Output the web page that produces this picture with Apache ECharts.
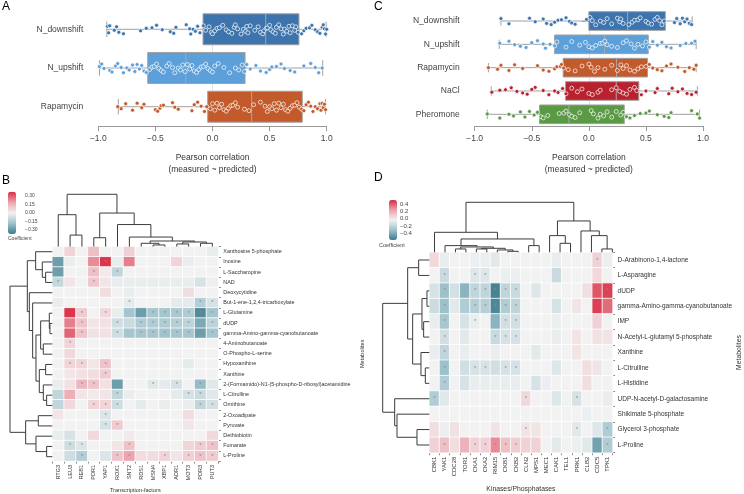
<!DOCTYPE html>
<html><head><meta charset="utf-8">
<script src="https://cdn.jsdelivr.net/npm/echarts@6/dist/echarts.min.js"></script>
<style>html,body{margin:0;padding:0;background:#fff}#c{width:744px;height:494px}</style>
</head><body><div id="c"></div>
<script>
// ---------- Panel A / C : box plots ----------
const A_CATS = ['N_downshift', 'N_upshift', 'Rapamycin'];
const A_STATS = [[-0.926, -0.083, 0.466, 0.757, 0.995], [-0.99, -0.567, -0.235, 0.285, 0.965], [-0.825, -0.042, 0.343, 0.786, 0.99]];
const A_PTS_NDOWN = [-0.92,-0.91,-0.9,-0.86,-0.84,-0.82,-0.78,-0.63,-0.58,-0.53,-0.49,-0.44,-0.37,-0.34,-0.32,-0.23,-0.2,-0.19,-0.17,-0.15,-0.13,-0.11,-0.08,-0.06,-0.03,-0.01,0.0,0.02,0.04,0.06,0.09,0.12,0.14,0.17,0.19,0.2,0.22,0.25,0.27,0.29,0.3,0.31,0.33,0.37,0.4,0.42,0.44,0.45,0.47,0.48,0.5,0.51,0.53,0.55,0.56,0.58,0.6,0.62,0.63,0.65,0.67,0.68,0.7,0.72,0.73,0.75,0.78,0.8,0.82,0.85,0.87,0.9,0.92,0.94,0.96,0.97,0.98,0.99,1.0];
const A_PTS_NUP = [-0.99,-0.97,-0.95,-0.9,-0.88,-0.85,-0.83,-0.8,-0.78,-0.75,-0.73,-0.7,-0.68,-0.66,-0.64,-0.62,-0.6,-0.58,-0.55,-0.53,-0.51,-0.49,-0.47,-0.45,-0.43,-0.4,-0.38,-0.35,-0.33,-0.3,-0.28,-0.26,-0.24,-0.22,-0.2,-0.18,-0.16,-0.14,-0.12,-0.1,-0.08,-0.06,-0.04,-0.02,0.0,0.02,0.05,0.1,0.15,0.2,0.23,0.26,0.28,0.3,0.33,0.38,0.42,0.47,0.5,0.52,0.56,0.6,0.63,0.68,0.72,0.8,0.86,0.9,0.93,0.96];
const A_PTS_RAPA = [-0.83,-0.8,-0.76,-0.7,-0.66,-0.62,-0.6,-0.5,-0.48,-0.46,-0.45,-0.43,-0.35,-0.33,-0.3,-0.18,-0.16,-0.13,-0.1,-0.07,-0.05,-0.02,0.0,0.02,0.04,0.06,0.08,0.1,0.12,0.14,0.16,0.18,0.2,0.22,0.28,0.32,0.36,0.42,0.46,0.48,0.5,0.52,0.54,0.56,0.58,0.6,0.62,0.64,0.66,0.68,0.7,0.72,0.74,0.76,0.78,0.8,0.82,0.84,0.86,0.88,0.9,0.92,0.94,0.95,0.96,0.97,0.98,0.99];

const C_CATS = ['N_downshift', 'N_upshift', 'Rapamycin', 'NaCl', 'Pheromone'];
const C_STATS = [[-0.77, 0.0, 0.34, 0.67, 0.905], [-0.785, -0.30, 0.137, 0.52, 0.94], [-0.88, -0.225, 0.242, 0.514, 0.94], [-0.855, -0.204, 0.24, 0.438, 0.95], [-0.89, -0.432, -0.175, 0.31, 0.97]];
const C_PTS_NDOWN = [-0.77,-0.7,-0.52,-0.47,-0.4,-0.37,-0.33,-0.3,-0.27,-0.24,-0.2,-0.17,-0.15,-0.12,-0.02,0.01,0.03,0.06,0.1,0.13,0.16,0.2,0.25,0.27,0.28,0.3,0.35,0.38,0.4,0.43,0.45,0.5,0.52,0.55,0.58,0.6,0.62,0.64,0.66,0.75,0.77,0.8,0.82,0.84,0.86,0.88,0.9];
const C_PTS_NUP = [-0.78,-0.7,-0.65,-0.6,-0.55,-0.5,-0.45,-0.4,-0.38,-0.34,-0.3,-0.28,-0.2,-0.15,-0.08,-0.03,0.0,0.03,0.06,0.1,0.12,0.14,0.16,0.2,0.25,0.3,0.33,0.37,0.4,0.43,0.47,0.5,0.53,0.56,0.6,0.64,0.68,0.72,0.8,0.85,0.9,0.93];
const C_PTS_RAPA = [-0.88,-0.8,-0.77,-0.7,-0.65,-0.58,-0.45,-0.4,-0.35,-0.3,-0.28,-0.25,-0.24,-0.22,-0.18,-0.12,-0.06,0.0,0.02,0.05,0.08,0.14,0.2,0.25,0.28,0.3,0.33,0.36,0.4,0.43,0.46,0.5,0.53,0.56,0.6,0.64,0.68,0.72,0.78,0.84,0.88,0.92,0.94];
const C_PTS_NACL = [-0.85,-0.78,-0.73,-0.68,-0.63,-0.58,-0.54,-0.5,-0.47,-0.4,-0.35,-0.3,-0.27,-0.23,-0.2,-0.15,-0.1,-0.06,0.0,0.03,0.08,0.1,0.2,0.24,0.27,0.3,0.33,0.36,0.4,0.42,0.46,0.5,0.58,0.6,0.7,0.73,0.78,0.82,0.86,0.9,0.94];
const C_PTS_PHER = [-0.89,-0.78,-0.7,-0.66,-0.6,-0.56,-0.52,-0.48,-0.45,-0.42,-0.4,-0.36,-0.26,-0.22,-0.2,-0.17,-0.15,-0.12,-0.08,0.02,0.04,0.08,0.1,0.13,0.16,0.2,0.24,0.28,0.3,0.33,0.36,0.4,0.45,0.5,0.53,0.6,0.66,0.7,0.72,0.9,0.95,0.97];

// ---------- Panel B heatmap ----------
const B_COLS = ['RTG3','LEU3','REB1','PDR1','YAP1','ROX1','SNT2','RDS1','MSN4','XBP1','ADR1','MOT3','PDR3','PUT3'];
const B_ROWS = ['Xanthosine 5-phosphate','Inosine','L-Saccharopine','NAD','Deoxycytidine','But-1-ene-1,2,4-tricarboxylate','L-Glutamine','dUDP','gamma-Amino-gamma-cyanobutanoate','4-Aminobutanoate','O-Phospho-L-serine','Hypoxanthine','Xanthine','2-(Formamido)-N1-(5-phospho-D-ribosyl)acetamidine','L-Citrulline','Ornithine','2-Oxoadipate','Pyruvate','Dethiobiotin','Fumarate','L-Proline'];
const B_VALUES = [
  [0,0.07,0,0.12,0,0,0.08,0,0,0,0,0,0,-0.02],
  [-0.28,-0.02,0,0.22,0.35,-0.02,0.24,0,0,0,0.07,-0.02,0,0],
  [-0.28,0,0,0.12,0.02,-0.11,0,0,0,0,0,0,0,0],
  [-0.1,0.03,0,0.1,0.03,-0.02,-0.02,-0.02,-0.02,-0.02,-0.02,-0.02,-0.06,-0.01],
  [0,0,0,0,0.05,0,-0.02,0,0,0,0,0.05,0,0],
  [-0.02,0,0,0,0,0,-0.03,0,0,0,-0.03,-0.03,-0.14,-0.06],
  [0,0.35,0.09,0,0.06,-0.02,-0.17,-0.28,-0.17,-0.17,-0.16,-0.15,-0.33,-0.17],
  [0,0.24,0.11,0.03,0.04,-0.08,-0.09,-0.15,-0.15,-0.15,-0.14,-0.12,-0.25,-0.12],
  [0,0.28,0.11,0.04,0.04,-0.08,-0.17,-0.17,-0.17,-0.18,-0.17,-0.17,-0.28,-0.17],
  [0,0.07,0,0,0,0,0,0,0,0,0,0,0,0],
  [0,0.06,0,0,0,0,0,0,0,0,0,0,0,0],
  [0,0.07,0.07,0.03,0.11,0,0,0,0,0,0,-0.03,0,0],
  [0,0.03,0.04,0.05,0.09,0,0,0,0,0,0,0,0,0],
  [-0.02,0.04,0.14,0.11,0.04,-0.28,0,0,-0.04,-0.03,-0.06,0,-0.2,-0.04],
  [-0.11,0.16,0.03,0.02,0.03,-0.11,-0.02,0,0,0,-0.03,-0.07,-0.09,-0.04],
  [-0.11,0.06,0,0.07,0.07,-0.08,0,-0.03,0,-0.02,0,-0.02,-0.11,-0.07],
  [0.03,0,0,0,-0.05,0,0,0,0,0,0,0.05,0,0],
  [0,0,0,0,-0.06,0.09,0,0,0,0,0,0.03,0,0],
  [-0.02,-0.06,0,0.06,0,0,0.02,0,0,0,0,0,0,0.06],
  [0,-0.08,-0.05,0,0,0.03,0.11,0,0,0,0,0.07,0.09,0.11],
  [0,-0.08,-0.14,0,-0.05,0.11,0.18,0.05,0.05,0.07,0.03,0.08,0.11,0.09]
];
const B_SIG = [[],[0,4],[0,3,5],[0,3],[],[6,12,13],[2,4,7,8,9,10,11,12,13],[2,5,7,8,9,10,11,13],[2,5,7,8,9,10,11,12,13],[1],[],[1,2,4],[4],[2,3,8,10,12],[5,11,12],[3,4,5,12,13],[4],[4,5],[],[1,2,6,12,13],[2,5,6,9,11,12,13]];
const B_COL_MERGES = [[1,2,35],[0,14,97],[3,4,27],[8,9,5],[7,17,10],[10,11,8],[12,13,10],[19,20,14],[18,21,17],[6,22,29],[5,23,67],[16,24,102],[15,25,159]];
const B_ROW_MERGES = [[2,3,20],[1,21,30],[0,22,50],[7,8,7],[6,24,9],[9,10,27],[25,26,35],[11,12,20],[14,15,17],[13,29,27],[28,30,39],[27,31,49],[5,32,59],[4,33,69],[23,34,75],[16,17,42],[19,20,17],[18,37,49],[36,38,80],[35,39,127]];
const B_SCALE_TICKS = [-0.3, 0.3, 0.15];

// ---------- Panel D heatmap ----------
const D_COLS = ['CBK1','YAK1','CDC28','TOR1','CKA1','CKA2','RIM15','CKB1','CKB2','CLN2','MPS1','MEC1','CAK1','TEL1','PRK1','CLB2','CDC5','TPK1'];
const D_ROWS = ['D-Arabinono-1,4-lactone','L-Asparagine','dUDP','gamma-Amino-gamma-cyanobutanoate','IMP','N-Acetyl-L-glutamyl 5-phosphate','Xanthine','L-Citrulline','L-Histidine','UDP-N-acetyl-D-galactosamine','Shikimate 5-phosphate','Glycerol 3-phosphate','L-Proline'];
const D_VALUES = [
  [0.09,-0.03,0,0,-0.02,-0.02,-0.05,0,0,0,0,0,-0.03,0,0,0,0.11,-0.02],
  [0,-0.14,0,0,-0.07,-0.07,0,-0.02,-0.02,0,0,0,-0.14,0,0,0,0.09,0],
  [-0.09,-0.28,-0.1,-0.33,-0.17,-0.17,-0.52,-0.17,-0.14,0,-0.07,0,0,0,0,0.07,0.45,0.5],
  [-0.13,-0.28,-0.05,-0.22,-0.2,-0.2,-0.5,-0.22,-0.17,0,0,0,-0.09,0,0.05,0,0.5,0.4],
  [-0.03,-0.25,0,-0.09,-0.03,0,-0.33,-0.11,-0.11,0,0,0,-0.02,0,0,0,0.11,0],
  [0,-0.11,0,-0.05,0,0,-0.14,-0.09,-0.09,0,0,0,-0.03,0,0.05,0,0.06,0.05],
  [-0.03,-0.17,0,-0.03,0,0,-0.03,0,0,0,-0.05,0,0,0,0.05,0,0,0],
  [0,-0.28,0,-0.11,-0.09,-0.09,-0.11,-0.09,-0.09,0,0,0,-0.07,0,0,0.07,0.05,0],
  [0,-0.22,0,-0.09,-0.03,-0.03,-0.03,-0.03,-0.03,0,-0.09,-0.02,0,0,0,0.07,0,0],
  [-0.22,-0.06,0,0,0,0,0,0,0,0.09,0,0,-0.07,0,-0.09,0,0,-0.03],
  [0,0,0,0,0,0,0,0,0,0,0,0,0,0,0,-0.02,0,0],
  [0.07,-0.02,0.06,0,0,0,0.05,0,0,0.05,0.05,0,0,0,-0.05,0,-0.07,-0.22],
  [0.11,0.17,0.07,0.22,0.11,0.11,0.33,0.17,0.13,0.11,0.11,0,-0.05,0,-0.02,-0.06,-0.4,-0.22]
];
const D_SIG = [[16],[1,4,5],[1,4,5,6,7,8,17],[1,4,5,6,7,8,17],[1,4,7,8],[1,6,7,8],[1],[1,4,5,7,8],[1],[0,9,14],[],[9,14,17],[1,4,5,6,7,8,17]];
const D_COL_MERGES = [[2,3,10],[4,5,10],[7,8,3],[6,20,7],[19,21,12],[18,22,16],[1,23,20],[9,10,20],[24,25,40],[0,26,60],[12,13,27],[11,28,50],[16,17,10],[15,30,50],[14,31,64],[29,32,94],[27,33,150]];
const D_ROW_MERGES = [[0,1,32],[2,3,7],[4,5,17],[14,15,22],[7,8,12],[6,17,25],[16,18,50],[13,19,65],[11,12,37],[10,21,97],[9,22,104],[20,23,140]];
const D_SCALE_TICKS = [-0.4, 0.4, 0.2];

// ---------- styles ----------
const FONT = 'Liberation Sans, Arial, sans-serif';
const BOX_COLORS_A = ['#3d74ae', '#5c9fd9', '#c25a2b'];
const BOX_COLORS_C = ['#3d74ae', '#5c9fd9', '#c25a2b', '#b8222f', '#5b9a45'];
const HEAT_COLORS = ['#3b7b8c', '#9fc2cc', '#f2f2f2', '#eca3ad', '#d92a40'];
const JITTER = [-0.6,0.2,0.9,-0.3,0.5,-0.9,0.0,0.7,-0.5,0.3,-0.8,0.8,-0.1,0.4,-0.7,0.6,-0.2,0.1,-0.4,0.95];
const minusFmt = d => v => { if (Math.abs(v) < 1e-9) v = 0; return (v < 0 ? '\u2212' : '') + Math.abs(v).toFixed(d); };

const grids = [], xAxes = [], yAxes = [], series = [];
function addGrid(g) { grids.push(g); return grids.length - 1; }

// ---------- box plot builder ----------
function boxPanel(gridDef, cats, stats, ptsList, colors, jitAmp) {
  const gi = addGrid(gridDef);
  xAxes.push({gridIndex: gi, type: 'value', min: -1, max: 1, interval: 0.5, offset: gridDef.xOffset,
    axisLine: {show: true, lineStyle: {color: '#999', width: 1}},
    axisTick: {show: true, length: 5, lineStyle: {color: '#999'}},
    axisLabel: {fontSize: 8.5, color: '#444', margin: 8, fontFamily: FONT, formatter: minusFmt(1)},
    splitLine: {show: false},
    name: 'Pearson correlation\n(measured ~ predicted)', nameLocation: 'middle', nameGap: 26,
    nameTextStyle: {fontSize: 8.5, color: '#333', lineHeight: 11.5, fontFamily: FONT}});
  yAxes.push({gridIndex: gi, type: 'category', data: cats, inverse: true, boundaryGap: false,
    axisLine: {show: true, lineStyle: {color: '#999', width: 1}},
    axisTick: {show: true, length: 7, lineStyle: {color: '#999'}},
    axisLabel: {fontSize: 8.5, color: '#444', margin: 15, fontFamily: FONT},
    splitLine: {show: false}});
  const ai = xAxes.length - 1;
  series.push({type: 'custom', xAxisIndex: ai, yAxisIndex: ai, z: 2, silent: true,
    encode: {x: [1, 2, 3, 4, 5], y: 0},
    data: stats.map((s, i) => [i].concat(s)),
    markLine: {silent: true, symbol: 'none', label: {show: false}, lineStyle: {color: '#e3e3e3', width: 1, type: 'solid'}, data: [{xAxis: 0}], z: 1},
    renderItem: (params, api) => {
      const ci = api.value(0);
      const band = api.size([0, 1])[1];
      const bh = band * 0.8, cap = bh * 0.5;
      const pMin = api.coord([api.value(1), ci]), pQ1 = api.coord([api.value(2), ci]), pMed = api.coord([api.value(3), ci]),
        pQ3 = api.coord([api.value(4), ci]), pMax = api.coord([api.value(5), ci]);
      const y = pMin[1];
      const ls = {stroke: '#a0a0a0', lineWidth: 1, fill: null};
      return {type: 'group', children: [
        {type: 'line', shape: {x1: pMin[0], y1: y, x2: pQ1[0], y2: y}, style: ls},
        {type: 'line', shape: {x1: pQ3[0], y1: y, x2: pMax[0], y2: y}, style: ls},
        {type: 'line', shape: {x1: pMin[0], y1: y - cap / 2, x2: pMin[0], y2: y + cap / 2}, style: ls},
        {type: 'line', shape: {x1: pMax[0], y1: y - cap / 2, x2: pMax[0], y2: y + cap / 2}, style: ls},
        {type: 'rect', shape: {x: pQ1[0], y: y - bh / 2, width: pQ3[0] - pQ1[0], height: bh}, style: {fill: colors[ci], stroke: '#a0a0a0', lineWidth: 1}},
        {type: 'line', shape: {x1: pMed[0], y1: y - bh / 2, x2: pMed[0], y2: y + bh / 2}, style: {stroke: '#a8a8a8', lineWidth: 1}}
      ]};
    }});
  ptsList.forEach((pts, ci) => {
    series.push({type: 'scatter', xAxisIndex: ai, yAxisIndex: ai, z: 3, silent: true, symbolSize: 4,
      itemStyle: {color: colors[ci], borderColor: '#ffffff', borderWidth: 0.7, opacity: 1},
      data: pts.map((v, k) => ({value: [v, ci], symbolOffset: [0, JITTER[(k * 7 + ci * 3) % JITTER.length] * jitAmp]}))});
  });
}
boxPanel({left: 98.3, top: 29.3, width: 228.4, height: 77.4, xOffset: 19.5}, A_CATS, A_STATS, [A_PTS_NDOWN, A_PTS_NUP, A_PTS_RAPA], BOX_COLORS_A, 5);
boxPanel({left: 474.7, top: 21, width: 228.3, height: 93.3, xOffset: 11.7}, C_CATS, C_STATS, [C_PTS_NDOWN, C_PTS_NUP, C_PTS_RAPA, C_PTS_NACL, C_PTS_PHER], BOX_COLORS_C, 4);

// ---------- dendrograms ----------
function dendroLinks(n, merges) {
  const pos = [], h = [], links = [];
  for (let i = 0; i < n; i++) { pos[i] = i + 0.5; h[i] = 0; }
  merges.forEach(([a, b, ht], k) => {
    pos[n + k] = (pos[a] + pos[b]) / 2; h[n + k] = ht;
    links.push([pos[a], h[a], pos[b], h[b], ht]);
  });
  return links;
}
function dendro(gridDef, n, merges, orient) {
  const gi = addGrid(gridDef);
  const links = dendroLinks(n, merges);
  const maxH = merges[merges.length - 1][2];
  if (orient === 'top') {
    xAxes.push({gridIndex: gi, type: 'value', min: 0, max: n, show: false});
    yAxes.push({gridIndex: gi, type: 'value', min: 0, max: maxH, show: false});
  } else {
    xAxes.push({gridIndex: gi, type: 'value', min: 0, max: maxH, inverse: true, show: false});
    yAxes.push({gridIndex: gi, type: 'value', min: 0, max: n, inverse: true, show: false});
  }
  const ai = xAxes.length - 1;
  series.push({type: 'custom', xAxisIndex: ai, yAxisIndex: ai, silent: true, clip: false,
    encode: orient === 'top' ? {x: [0, 2], y: [1, 3, 4]} : {x: [1, 3, 4], y: [0, 2]},
    data: links,
    renderItem: (params, api) => {
      const c = (p, hh) => orient === 'top' ? api.coord([p, hh]) : api.coord([hh, p]);
      const p1 = c(api.value(0), api.value(1)), p1t = c(api.value(0), api.value(4)),
        p2t = c(api.value(2), api.value(4)), p2 = c(api.value(2), api.value(3));
      return {type: 'polyline', shape: {points: [p1, p1t, p2t, p2]}, style: {stroke: '#3c3c3c', lineWidth: 1, fill: null}};
    }});
}

// ---------- heatmaps ----------
const heatIdx = [];
function heatPanel(gridDef, cols, rows, vals, sig, o) {
  const gi = addGrid(gridDef);
  xAxes.push({gridIndex: gi, type: 'category', data: cols, position: 'bottom',
    axisLine: {show: false}, axisTick: {show: true, length: 2.5, lineStyle: {color: '#333', width: 0.6}},
    axisLabel: {rotate: 90, fontSize: o.colFont, color: '#333', margin: 4, fontFamily: FONT, interval: 0},
    splitLine: {show: false},
    name: o.xName, nameLocation: 'middle', nameGap: o.xGap, nameTextStyle: {fontSize: o.nameFont, color: '#333', fontFamily: FONT}});
  yAxes.push({gridIndex: gi, type: 'category', data: rows, inverse: true, position: 'right',
    axisLine: {show: false}, axisTick: {show: true, length: 2.5, lineStyle: {color: '#333', width: 0.6}},
    axisLabel: {fontSize: o.rowFont, color: '#333', margin: 5, fontFamily: FONT, interval: 0},
    splitLine: {show: false},
    name: 'Metabolites', nameLocation: 'middle', nameGap: o.yGap, nameRotate: 90,
    nameTextStyle: {fontSize: o.nameFont, color: '#333', fontFamily: FONT}});
  const ai = xAxes.length - 1;
  const data = [];
  vals.forEach((row, r) => row.forEach((v, c) => data.push([c, r, v, sig[r].includes(c) ? 1 : 0])));
  series.push({type: 'heatmap', xAxisIndex: ai, yAxisIndex: ai, silent: true, data: data,
    itemStyle: {borderColor: '#ffffff', borderWidth: 0.8},
    label: {show: true, fontSize: 6, color: '#8a8a8a', fontFamily: FONT, formatter: p => p.value[3] ? '*' : ''},
    emphasis: {disabled: true}});
  heatIdx.push(series.length - 1);
}
function scaleAxis(gridDef, ticks, dec, font) {
  const gi = addGrid(gridDef);
  xAxes.push({gridIndex: gi, type: 'value', show: false, min: 0, max: 1});
  yAxes.push({gridIndex: gi, type: 'value', position: 'right', min: ticks[0], max: ticks[1], interval: ticks[2],
    axisLine: {show: false}, axisTick: {show: false}, splitLine: {show: false},
    axisLabel: {fontSize: font, color: '#444', margin: gridDef.margin, fontFamily: FONT, formatter: minusFmt(dec)}});
}

heatPanel({left: 52.3, top: 246.6, width: 166, height: 215.2}, B_COLS, B_ROWS, B_VALUES, B_SIG,
  {colFont: 5.5, rowFont: 5.4, nameFont: 5.6, xName: 'Transcription-factors', xGap: 26, yGap: 141});
dendro({left: 52.3, top: 194.3, width: 166, height: 52.3}, 14, B_COL_MERGES, 'top');
dendro({left: 10, top: 246.6, width: 42.3, height: 215.2}, 21, B_ROW_MERGES, 'left');
heatPanel({left: 429.3, top: 252.3, width: 188.3, height: 200.4}, D_COLS, D_ROWS, D_VALUES, D_SIG,
  {colFont: 6, rowFont: 6.5, nameFont: 6.8, xName: 'Kinases/Phosphatases', xGap: 33, yGap: 121});
dendro({left: 429.3, top: 202.3, width: 188.3, height: 50}, 18, D_COL_MERGES, 'top');
dendro({left: 382.7, top: 252.3, width: 46.6, height: 200.4}, 13, D_ROW_MERGES, 'left');
scaleAxis({left: 8, top: 196, width: 8, height: 34, margin: 9}, B_SCALE_TICKS, 2, 5);
scaleAxis({left: 389, top: 204, width: 8, height: 29.3, margin: 3}, D_SCALE_TICKS, 1, 6);

const option = {
  backgroundColor: '#ffffff',
  animation: false,
  textStyle: {fontFamily: FONT},
  title: [
    {text: 'A', left: 2, top: 1, padding: 0, textStyle: {fontSize: 12, fontWeight: 'normal', color: '#000', fontFamily: FONT}},
    {text: 'B', left: 2, top: 175, padding: 0, textStyle: {fontSize: 12, fontWeight: 'normal', color: '#000', fontFamily: FONT}},
    {text: 'C', left: 374, top: 1, padding: 0, textStyle: {fontSize: 12, fontWeight: 'normal', color: '#000', fontFamily: FONT}},
    {text: 'D', left: 374, top: 172, padding: 0, textStyle: {fontSize: 12, fontWeight: 'normal', color: '#000', fontFamily: FONT}},
    {text: 'Coefficient', left: 8, top: 236, padding: 0, textStyle: {fontSize: 5, fontWeight: 'normal', color: '#444', fontFamily: FONT}},
    {text: 'Coefficient', left: 379, top: 242, padding: 0, textStyle: {fontSize: 5.5, fontWeight: 'normal', color: '#444', fontFamily: FONT}}
  ],
  grid: grids.map(g => ({left: g.left, top: g.top, width: g.width, height: g.height, containLabel: false})),
  xAxis: xAxes,
  yAxis: yAxes,
  visualMap: [
    {type: 'continuous', seriesIndex: heatIdx[0], dimension: 2, min: -0.37, max: 0.37, calculable: false, show: true,
      left: 8, top: 191.7, itemWidth: 8, itemHeight: 42.3, padding: 0, text: null, showLabel: false,
      inRange: {color: HEAT_COLORS}},
    {type: 'continuous', seriesIndex: heatIdx[1], dimension: 2, min: -0.55, max: 0.55, calculable: false, show: true,
      left: 389, top: 200, itemWidth: 8, itemHeight: 40, padding: 0, text: null, showLabel: false,
      inRange: {color: HEAT_COLORS}}
  ],
  series: series
};
const chart = echarts.init(document.getElementById('c'), null, {renderer: 'canvas'});
chart.setOption(option);
</script></body></html>
